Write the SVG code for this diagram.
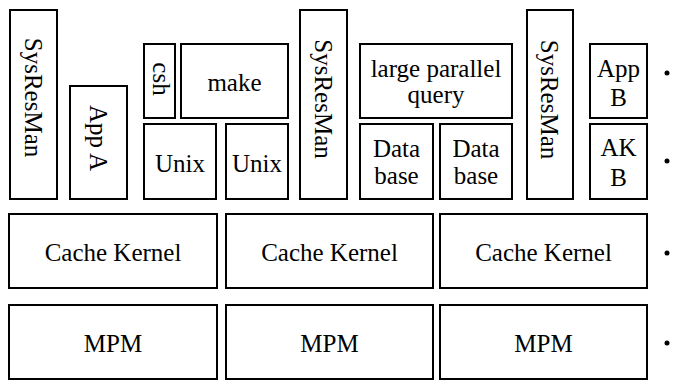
<svg xmlns="http://www.w3.org/2000/svg" width="678" height="381" viewBox="0 0 678 381">
<rect x="0" y="0" width="678" height="381" fill="#fff"/>
<g font-family="Liberation Serif" font-size="25" text-anchor="middle" fill="#000">
<g fill="#fff" stroke="#000" stroke-width="2">
<rect id="r-sysresman1" x="10" y="10" width="47" height="189"/>
<rect id="r-appA" x="70" y="86" width="57" height="113"/>
<rect id="r-csh" x="144" y="44" width="31" height="74"/>
<rect id="r-make" x="181" y="44" width="107" height="74"/>
<rect id="r-unix1" x="144" y="124" width="72" height="75"/>
<rect id="r-unix2" x="226" y="124" width="62" height="75"/>
<rect id="r-sysresman2" x="300" y="10" width="47" height="189"/>
<rect id="r-query" x="360" y="44" width="152" height="74"/>
<rect id="r-database1" x="360" y="124" width="73" height="75"/>
<rect id="r-database2" x="440" y="124" width="72" height="75"/>
<rect id="r-sysresman3" x="527" y="10" width="46" height="189"/>
<rect id="r-appB" x="590" y="44" width="57" height="74"/>
<rect id="r-akB" x="590" y="124" width="57" height="75"/>
<rect id="r-ck1" x="9" y="214" width="208" height="74"/>
<rect id="r-ck2" x="226" y="214" width="207" height="74"/>
<rect id="r-ck3" x="440" y="214" width="207" height="74"/>
<rect id="r-mpm1" x="9" y="305" width="208" height="74"/>
<rect id="r-mpm2" x="226" y="305" width="207" height="74"/>
<rect id="r-mpm3" x="440" y="305" width="207" height="74"/>
</g>
<g id="sysresman1"><text transform="translate(33.5,97.5) rotate(90)" y="9">SysResMan</text></g>
<g id="appA"><text transform="translate(98.5,138) rotate(90)" y="9">App A</text></g>
<g id="csh"><text transform="translate(159.5,79) rotate(90)" y="7">csh</text></g>
<g id="make"><text x="234.5" y="91">make</text></g>
<g id="unix1"><text x="180" y="172">Unix</text></g>
<g id="unix2"><text x="257" y="172">Unix</text></g>
<g id="sysresman2"><text transform="translate(323.5,99) rotate(90)" y="9">SysResMan</text></g>
<g id="query"><text x="436" y="77">large parallel</text><text x="436" y="103">query</text></g>
<g id="database1"><text x="396.5" y="157">Data</text><text x="396.5" y="184">base</text></g>
<g id="database2"><text x="476" y="157">Data</text><text x="476" y="184">base</text></g>
<g id="sysresman3"><text transform="translate(550,99.5) rotate(90)" y="9">SysResMan</text></g>
<g id="appB"><text x="618.5" y="77">App</text><text x="618.5" y="106">B</text></g>
<g id="akB"><text x="618.5" y="156">AK</text><text x="618.5" y="186">B</text></g>
<g id="ck1"><text x="113" y="261">Cache Kernel</text></g>
<g id="ck2"><text x="329.5" y="261">Cache Kernel</text></g>
<g id="ck3"><text x="543.5" y="261">Cache Kernel</text></g>
<g id="mpm1"><text x="113" y="352">MPM</text></g>
<g id="mpm2"><text x="329.5" y="352">MPM</text></g>
<g id="mpm3"><text x="543.5" y="352">MPM</text></g>
</g>
<g id="bullets" fill="#000">
<circle cx="667" cy="73" r="2.5"/>
<circle cx="667" cy="161" r="2.5"/>
<circle cx="667" cy="253" r="2.5"/>
<circle cx="667" cy="343" r="2.5"/>
</g>
</svg>
